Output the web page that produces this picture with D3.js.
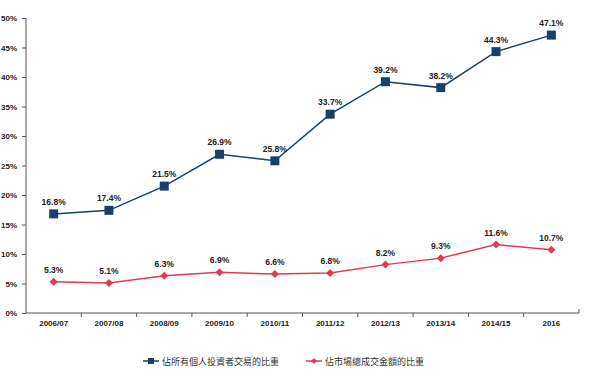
<!DOCTYPE html>
<html><head><meta charset="utf-8">
<script src="https://cdn.jsdelivr.net/npm/d3@7"></script>
<style>
body{margin:0;background:#fff;}
svg{display:block;}
</style></head><body>
<svg id="chart" width="590" height="378"></svg>
<script>
const categories = ["2006/07","2007/08","2008/09","2009/10","2010/11","2011/12","2012/13","2013/14","2014/15","2016"];
const seriesA = [16.8,17.4,21.5,26.9,25.8,33.7,39.2,38.2,44.3,47.1];
const seriesB = [5.3,5.1,6.3,6.9,6.6,6.8,8.2,9.3,11.6,10.7];
const seriesNames = ["佔所有個人投資者交易的比重","佔市場總成交金額的比重"];
const yTicks = [0,5,10,15,20,25,30,35,40,45,50];

const colA = "#17406D", colB = "#E23A52";
const svg = d3.select("#chart");
const x = d3.scaleBand().domain(categories).range([26,579]);
const y = d3.scaleLinear().domain([0,50]).range([313,18]);
const cx = d => x(d) + x.bandwidth()/2;

// y axis
const ya = svg.append("g").attr("transform","translate(26,0)")
  .call(d3.axisLeft(y).tickValues(yTicks).tickFormat(d=>d+"%").tickSize(4).tickPadding(5));
ya.select(".domain").attr("stroke","#555").attr("d","M0,18V313");
ya.selectAll(".tick line").attr("stroke","#555");
ya.selectAll("text").attr("font-family","Liberation Sans, Arial, sans-serif").attr("font-size","8px").attr("font-weight","bold").attr("fill","#222");

// x axis
const xa = svg.append("g").attr("transform","translate(0,313)")
  .call(d3.axisBottom(x).tickSize(0).tickPadding(7));
xa.select(".domain").attr("stroke","#555").attr("d","M26,0H579V-4");
xa.selectAll("text").attr("font-family","Liberation Sans, Arial, sans-serif").attr("font-size","8px").attr("font-weight","bold").attr("fill","#222");
xa.selectAll(".bnd").data(categories.slice(1)).enter().append("line")
  .attr("x1",d=>x(d)).attr("x2",d=>x(d)).attr("y1",0).attr("y2",4).attr("stroke","#555");

const line = d3.line().x((d,i)=>cx(categories[i])).y(d=>y(d));
// series A
svg.append("path").datum(seriesA).attr("d",line).attr("fill","none").attr("stroke",colA).attr("stroke-width",1.5);
svg.selectAll(".ma").data(seriesA).enter().append("rect")
  .attr("x",(d,i)=>cx(categories[i])-4.5).attr("y",d=>y(d)-4.5).attr("width",9).attr("height",9).attr("fill",colA);
svg.selectAll(".la").data(seriesA).enter().append("text")
  .attr("x",(d,i)=>cx(categories[i])).attr("y",d=>y(d)-9).attr("text-anchor","middle")
  .attr("font-family","Liberation Sans, Arial, sans-serif").attr("font-size","8.5px").attr("font-weight","bold").attr("fill","#222")
  .text(d=>d.toFixed(1)+"%");
// series B
svg.append("path").datum(seriesB).attr("d",line).attr("fill","none").attr("stroke",colB).attr("stroke-width",1.5);
svg.selectAll(".mb").data(seriesB).enter().append("path")
  .attr("d",(d,i)=>{const px=cx(categories[i]),py=y(d);return `M${px},${py-4}L${px+4},${py}L${px},${py+4}L${px-4},${py}Z`;})
  .attr("fill",colB);
svg.selectAll(".lb").data(seriesB).enter().append("text")
  .attr("x",(d,i)=>cx(categories[i])).attr("y",d=>y(d)-9).attr("text-anchor","middle")
  .attr("font-family","Liberation Sans, Arial, sans-serif").attr("font-size","8.5px").attr("font-weight","bold").attr("fill","#222")
  .text(d=>d.toFixed(1)+"%");

// legend
const lg = svg.append("g");
const legX = [143, 306];
[colA,colB].forEach((c,i)=>{
  const lx = legX[i], ly = 361;
  lg.append("line").attr("x1",lx).attr("x2",lx+16).attr("y1",ly).attr("y2",ly).attr("stroke",c).attr("stroke-width",1.5);
  if(i===0) lg.append("rect").attr("x",lx+5).attr("y",ly-3).attr("width",6).attr("height",6).attr("fill",c);
  else lg.append("path").attr("d",`M${lx+8},${ly-3}L${lx+11},${ly}L${lx+8},${ly+3}L${lx+5},${ly}Z`).attr("fill",c);
  lg.append("text").attr("x",lx+19).attr("y",ly+3.5).attr("font-family","Noto Sans CJK TC, sans-serif")
    .attr("font-size","9px").attr("fill","#333").text(seriesNames[i]);
});
</script>
</body></html>
